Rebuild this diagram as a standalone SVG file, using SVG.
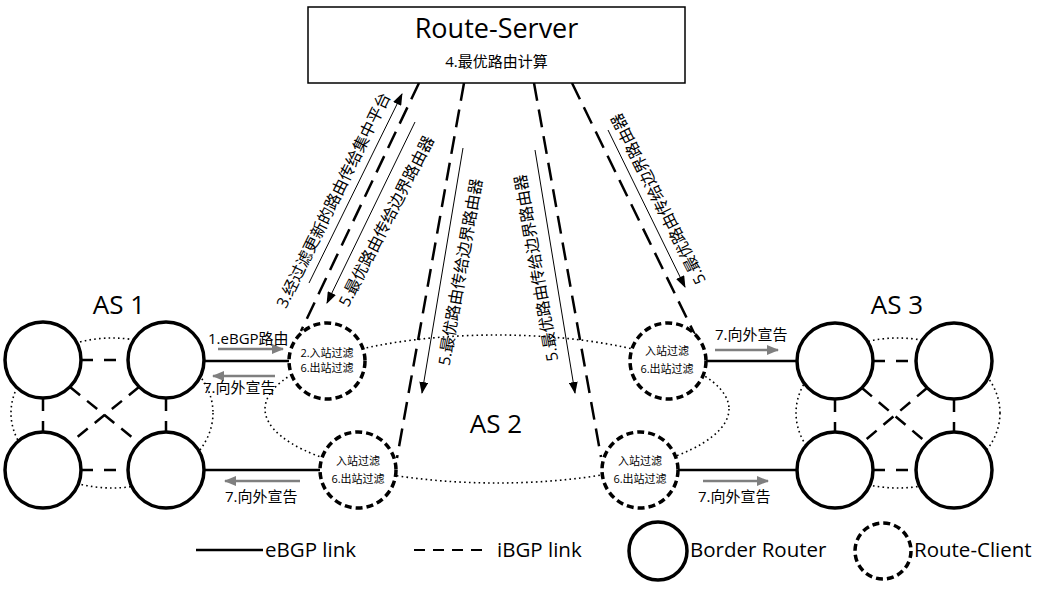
<svg xmlns="http://www.w3.org/2000/svg" width="1051" height="592" viewBox="0 0 1051 592">
<style>
.t{font-family:"Open Sans","Noto Sans CJK SC",sans-serif;fill:#000}
.cj{font-family:"Open Sans","Noto Sans CJK SC",sans-serif;fill:#000}
.dot{fill:none;stroke:#000;stroke-width:1.6;stroke-dasharray:1.6 3.2}
.br{fill:#fff;stroke:#000;stroke-width:3.5}
.rc{fill:#fff;stroke:#000;stroke-width:3.5;stroke-dasharray:7 4}
.ib{stroke:#000;stroke-width:2.5;stroke-dasharray:12 11;fill:none}
.ibs{stroke:#000;stroke-width:2.5;stroke-dasharray:18 9;fill:none}
.eb{stroke:#000;stroke-width:2.5;fill:none}
.th{stroke:#000;stroke-width:1;fill:none}
.gr{stroke:#7f7f7f;stroke-width:2.5;fill:none}
.ct{font-size:11px;text-anchor:middle}
.rl{font-size:16px;text-anchor:middle;dominant-baseline:central}
</style>
<defs>
<marker id="ah" markerUnits="userSpaceOnUse" markerWidth="12" markerHeight="9" refX="11" refY="4.5" orient="auto"><path d="M0,0 L12,4.5 L0,9 z" fill="#000"/></marker>
<marker id="ag" markerUnits="userSpaceOnUse" markerWidth="12" markerHeight="10" refX="11" refY="5" orient="auto"><path d="M0,0 L12,5 L0,10 z" fill="#7f7f7f"/></marker>
</defs>
<rect width="1051" height="592" fill="#fff"/>

<g id="as-boundaries">
<ellipse class="dot" cx="112" cy="413" rx="101" ry="75"/>
<ellipse class="dot" cx="898" cy="413" rx="102" ry="75"/>
<ellipse class="dot" cx="497" cy="409" rx="232" ry="74"/>
</g>

<g id="connectors">
<line class="ibs" x1="419" y1="83" x2="301" y2="331"/>
<line class="ibs" x1="464" y1="83" x2="397" y2="458"/>
<line class="ibs" x1="534" y1="83" x2="601" y2="457"/>
<line class="ibs" x1="572" y1="83" x2="695" y2="335"/>
<line class="ib" x1="81" y1="360" x2="128" y2="360"/>
<line class="ib" x1="81" y1="470" x2="128" y2="470"/>
<line class="ib" x1="43" y1="398" x2="43" y2="432" style="stroke-dasharray:13 10"/>
<line class="ib" x1="166" y1="398" x2="166" y2="432" style="stroke-dasharray:13 10"/>
<line class="ib" x1="70" y1="387" x2="139" y2="443" style="stroke-dasharray:13 9"/>
<line class="ib" x1="139" y1="387" x2="70" y2="443" style="stroke-dasharray:13 9"/>
<line class="ib" x1="873" y1="361" x2="916" y2="361"/>
<line class="ib" x1="873" y1="470" x2="916" y2="470"/>
<line class="ib" x1="835" y1="399" x2="835" y2="432" style="stroke-dasharray:13 10"/>
<line class="ib" x1="954" y1="399" x2="954" y2="432" style="stroke-dasharray:13 10"/>
<line class="ib" x1="862" y1="388" x2="927" y2="443" style="stroke-dasharray:13 9"/>
<line class="ib" x1="927" y1="388" x2="862" y2="443" style="stroke-dasharray:13 9"/>
<line class="eb" x1="204" y1="361" x2="289" y2="361"/>
<line class="eb" x1="204" y1="470" x2="320" y2="470"/>
<line class="eb" x1="706" y1="361" x2="797" y2="361"/>
<line class="eb" x1="678" y1="470" x2="797" y2="470"/>
<line class="th" x1="309" y1="283" x2="402" y2="94" marker-end="url(#ah)"/>
<line class="th" x1="415" y1="122" x2="327" y2="303" marker-end="url(#ah)"/>
<line class="th" x1="463" y1="148" x2="422" y2="393" marker-end="url(#ah)"/>
<line class="th" x1="535" y1="150" x2="575" y2="393" marker-end="url(#ah)"/>
<line class="th" x1="608" y1="130" x2="685" y2="287" marker-end="url(#ah)"/>
<line class="gr" x1="218" y1="349" x2="283" y2="349" marker-end="url(#ag)"/>
<line class="gr" x1="275" y1="376" x2="213" y2="376" marker-end="url(#ag)"/>
<line class="gr" x1="300" y1="481" x2="225" y2="481" marker-end="url(#ag)"/>
<line class="gr" x1="715" y1="350" x2="778" y2="350" marker-end="url(#ag)"/>
<line class="gr" x1="703" y1="481" x2="768" y2="481" marker-end="url(#ag)"/>
</g>

<g id="route-server">
<rect x="308" y="7" width="377" height="76" fill="#fff" stroke="#000" stroke-width="1.5"/>
<text class="t" x="496.5" y="38" font-size="27" text-anchor="middle">Route-Server</text>
<text class="cj" x="496.5" y="67" font-size="15" text-anchor="middle">4.最优路由计算</text>
</g>

<g id="as1">
<text class="t" x="119" y="314" font-size="26" text-anchor="middle">AS 1</text>
<circle id="as1-r1" class="br" cx="43" cy="360" r="38"/>
<circle id="as1-r2" class="br" cx="166" cy="360" r="38"/>
<circle id="as1-r3" class="br" cx="43" cy="470" r="38"/>
<circle id="as1-r4" class="br" cx="166" cy="470" r="38"/>
</g>

<g id="as3">
<text class="t" x="897" y="314" font-size="26" text-anchor="middle">AS 3</text>
<circle id="as3-r1" class="br" cx="835" cy="361" r="38"/>
<circle id="as3-r2" class="br" cx="954" cy="361" r="38"/>
<circle id="as3-r3" class="br" cx="835" cy="470" r="38"/>
<circle id="as3-r4" class="br" cx="954" cy="470" r="38"/>
</g>

<g id="as2">
<text class="t" x="496" y="433" font-size="26" text-anchor="middle">AS 2</text>
</g>

<g id="client-lt">
<circle class="rc" cx="327" cy="361" r="38"/>
<text class="cj ct" x="327" y="357">2.入站过滤</text>
<text class="cj ct" x="327" y="372">6.出站过滤</text>
</g>
<g id="client-lb">
<circle class="rc" cx="358" cy="470" r="38"/>
<text class="cj ct" x="358" y="465">入站过滤</text>
<text class="cj ct" x="358" y="483">6.出站过滤</text>
</g>
<g id="client-rt">
<circle class="rc" cx="668" cy="361" r="38"/>
<text class="cj ct" x="667" y="355">入站过滤</text>
<text class="cj ct" x="667" y="373">6.出站过滤</text>
</g>
<g id="client-rb">
<circle class="rc" cx="640" cy="470" r="38"/>
<text class="cj ct" x="640" y="465">入站过滤</text>
<text class="cj ct" x="640" y="483">6.出站过滤</text>
</g>

<g id="labels">
<text class="cj" x="208" y="344" font-size="15">1.eBGP路由</text>
<text class="cj" x="203" y="393" font-size="15">7.向外宣告</text>
<text class="cj" x="225" y="502" font-size="15">7.向外宣告</text>
<text class="cj" x="715" y="340" font-size="15">7.向外宣告</text>
<text class="cj" x="698" y="502" font-size="15">7.向外宣告</text>
<text class="cj rl" transform="translate(333,200) rotate(-63.8)">3.经过滤更新的路由传给集中平台</text>
<text class="cj rl" transform="translate(386,221) rotate(-62.9)">5.最优路由传给边界路由器</text>
<text class="cj rl" transform="translate(460,272) rotate(-80)">5.最优路由传给边界路由器</text>
<text class="cj rl" transform="translate(536,268) rotate(-100)">5.最优路由传给边界路由器</text>
<text class="cj rl" transform="translate(658,199) rotate(-117)">5.最优路由传给边界路由器</text>
</g>

<g id="legend">
<line class="eb" x1="196" y1="550" x2="263" y2="550" stroke-width="2"/>
<text class="t" x="265" y="557" font-size="20.5">eBGP link</text>
<line x1="414" y1="550" x2="488" y2="550" stroke="#000" stroke-width="2" stroke-dasharray="11 8"/>
<text class="t" x="497" y="557" font-size="20.5">iBGP link</text>
<circle class="br" cx="658" cy="551" r="29" stroke-width="3"/>
<text class="t" x="690" y="557" font-size="20.5">Border Router</text>
<circle class="rc" cx="883" cy="551" r="28" stroke-width="3" stroke-dasharray="5 3"/>
<text class="t" x="914" y="557" font-size="20.5">Route-Client</text>
</g>
</svg>
